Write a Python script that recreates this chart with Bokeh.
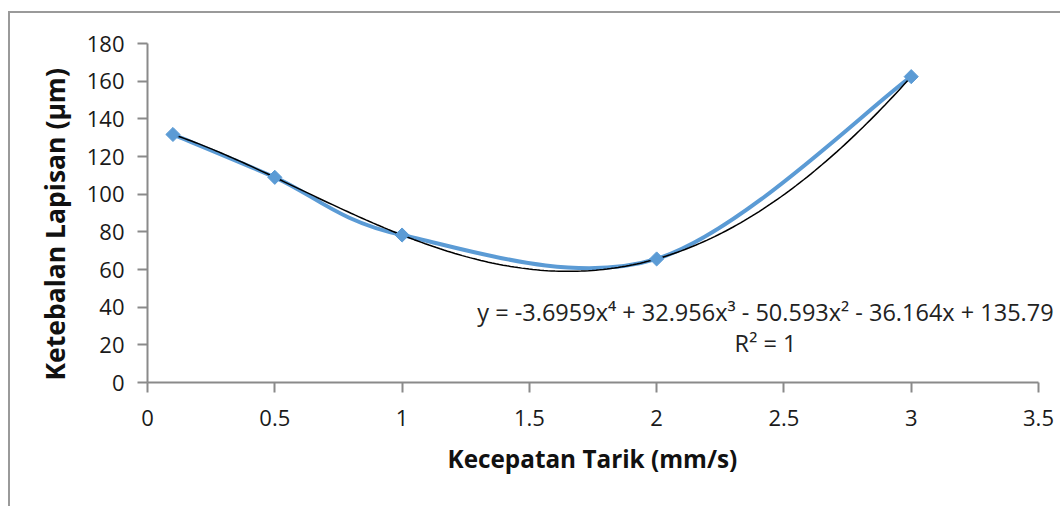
from bokeh.plotting import figure
from bokeh.embed import file_html
from bokeh.resources import INLINE
from bokeh.models import FixedTicker, Label, InlineStyleSheet, Title
import numpy as np

# data
speed = [0.1, 0.5, 1, 2, 3]
thickness = [131.7, 108.95, 78.3, 65.6, 162.4]
trend_coef = [-3.6959, 32.956, -50.593, -36.164, 135.79]  # x^4 .. x^0
x_ticks = [0, 0.5, 1, 1.5, 2, 2.5, 3, 3.5]
y_ticks = [0, 20, 40, 60, 80, 100, 120, 140, 160, 180]
x_title = "Kecepatan Tarik (mm/s)"
y_title = "Ketebalan Lapisan (\u00b5m)"
eq_text = "y = -3.6959x\u2074 + 32.956x\u00b3 - 50.593x\u00b2 - 36.164x + 135.79"
r2_text = "R\u00b2 = 1"

FONT = "Open Sans"
BLUE = "#5B9BD5"
GRAY = "#8a8a8a"

# frame: x 0..3.5 spans 891 px, extended to the right edge so the equation is not clipped
px_per_x = 891 / 3.5
x_end = 3.5 + 22 / px_per_x

p = figure(width=1060, height=506, output_backend="svg", toolbar_location=None,
           x_range=(0, x_end), y_range=(0, 180),
           min_border_left=147, min_border_right=0, min_border_top=43, min_border_bottom=124)
p.xgrid.visible = False
p.ygrid.visible = False
p.outline_line_color = None
p.stylesheets = [InlineStyleSheet(css="""
:host { position: relative; }
:host::after { content: ''; position: absolute; left: 8px; top: 11px; width: 1052px; height: 495px;
  box-sizing: border-box; border-left: 2px solid #9a9a9a; border-top: 2px solid #9a9a9a;
  pointer-events: none; }
""")]

for ax in (p.xaxis[0], p.yaxis[0]):
    ax.axis_line_color = GRAY
    ax.axis_line_width = 2
    ax.major_tick_line_color = GRAY
    ax.major_tick_line_width = 2
    ax.major_tick_out = 10
    ax.major_tick_in = 0
    ax.minor_tick_line_color = None
    ax.major_label_text_font = FONT
    ax.major_label_text_font_size = "22px"
    ax.major_label_text_color = "#1a1a1a"

p.xaxis.bounds = (0, 3.5)
p.xaxis.ticker = FixedTicker(ticks=x_ticks)
p.yaxis.ticker = FixedTicker(ticks=y_ticks)
p.xaxis.major_label_overrides = {0: "0", 1: "1", 2: "2", 3: "3"}
p.xaxis.major_label_standoff = 17
p.yaxis.major_label_standoff = 13

# axis titles (as titles so they can be placed on the axis, not the extended frame)
p.add_layout(Title(text=x_title, align="left", offset=300, standoff=23,
                   text_font=FONT, text_font_style="bold", text_font_size="24.3px",
                   text_color="#111111"), "below")
p.add_layout(Title(text=y_title, align="left", offset=2, standoff=22,
                   text_font=FONT, text_font_style="bold", text_font_size="26.5px",
                   text_color="#111111"), "left")

# smoothed (Catmull-Rom style) line through the data
xs = np.array(speed, dtype=float)
ys = np.array(thickness, dtype=float)
n = len(xs)
x0, y0, x1, y1, cx0, cy0, cx1, cy1 = [], [], [], [], [], [], [], []
for i in range(n - 1):
    pm = i - 1 if i > 0 else i
    pp = i + 2 if i + 2 < n else i + 1
    x0.append(xs[i]); y0.append(ys[i])
    x1.append(xs[i + 1]); y1.append(ys[i + 1])
    cx0.append(xs[i] + (xs[i + 1] - xs[pm]) / 6)
    cy0.append(ys[i] + (ys[i + 1] - ys[pm]) / 6)
    cx1.append(xs[i + 1] - (xs[pp] - xs[i]) / 6)
    cy1.append(ys[i + 1] - (ys[pp] - ys[i]) / 6)
p.bezier(x0=x0, y0=y0, x1=x1, y1=y1, cx0=cx0, cy0=cy0, cx1=cx1, cy1=cy1,
         line_color=BLUE, line_width=4)

# polynomial trendline as given by its printed equation
tx = np.linspace(speed[0], speed[-1], 200)
ty = np.polyval(trend_coef, tx)
p.line(tx, ty, line_color="#000000", line_width=1.5)

p.scatter(speed, thickness, marker="square", angle=np.pi / 4, size=10,
          fill_color=BLUE, line_color=BLUE)

# equation labels (screen units are relative to the frame's bottom-left)
p.add_layout(Label(x=618, y=71, x_units="screen", y_units="screen", text=eq_text,
                   text_font=FONT, text_font_size="23.5px", text_color="#222222",
                   text_align="center", text_baseline="middle"))
p.add_layout(Label(x=618, y=40, x_units="screen", y_units="screen", text=r2_text,
                   text_font=FONT, text_font_size="23.5px", text_color="#222222",
                   text_align="center", text_baseline="middle"))

open("out.html", "w").write(file_html(p, INLINE))
